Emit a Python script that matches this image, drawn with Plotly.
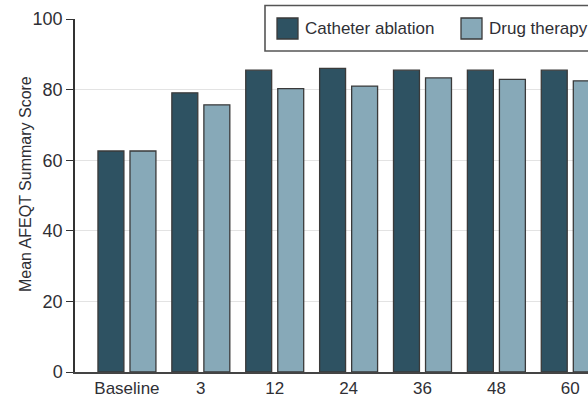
import plotly.graph_objects as go

categories = ["Baseline", "3", "12", "24", "36", "48", "60"]
catheter_ablation = [62.6, 79.1, 85.5, 86.0, 85.5, 85.5, 85.5]
drug_therapy = [62.6, 75.7, 80.3, 81.0, 83.3, 82.9, 82.5]
series_names = ["Catheter ablation", "Drug therapy"]
y_ticks = [0, 20, 40, 60, 80, 100]

W, H = 588, 400
L, R, T, B = 75, 0, 19, 28
FONT = "Liberation Sans, Arial, sans-serif"
TXT = "#2f2f35"
DARK = "#2e5262"
LIGHT = "#87a9b8"
EDGE = "#3a3a3a"

fig = go.Figure()
fig.add_trace(go.Bar(x=categories, y=catheter_ablation, name=series_names[0],
                     marker=dict(color=DARK, line=dict(color=EDGE, width=1.3)),
                     showlegend=False))
fig.add_trace(go.Bar(x=categories, y=drug_therapy, name=series_names[1],
                     marker=dict(color=LIGHT, line=dict(color=EDGE, width=1.3)),
                     showlegend=False))

pw = W - L - R
ph = H - T - B
def px(x):
    return (x - L) / pw
def py(y):
    return (H - B - y) / ph

shapes = [
    dict(type="rect", xref="paper", yref="paper", x0=px(265), x1=px(600), y0=py(51), y1=py(5.5),
         line=dict(color="#555555", width=1.6), fillcolor="white", layer="above"),
    dict(type="rect", xref="paper", yref="paper", x0=px(277), x1=px(298), y0=py(39), y1=py(18),
         line=dict(color=EDGE, width=1.3), fillcolor=DARK, layer="above"),
    dict(type="rect", xref="paper", yref="paper", x0=px(461), x1=px(482), y0=py(39), y1=py(18),
         line=dict(color=EDGE, width=1.3), fillcolor=LIGHT, layer="above"),
]
annotations = [
    dict(text=series_names[0], xref="paper", yref="paper", x=px(303), y=py(28.5),
         xanchor="left", yanchor="middle", showarrow=False, font=dict(family=FONT, size=17, color=TXT)),
    dict(text=series_names[1], xref="paper", yref="paper", x=px(487), y=py(28.5),
         xanchor="left", yanchor="middle", showarrow=False, font=dict(family=FONT, size=17, color=TXT)),
    dict(text="Mean AFEQT Summary Score", xref="paper", yref="paper", x=px(25), y=py(184),
         xanchor="center", yanchor="middle", textangle=-90, showarrow=False,
         font=dict(family=FONT, size=16, color=TXT)),
]

fig.update_layout(
    width=W, height=H,
    margin=dict(l=L, r=R, t=T, b=B, pad=0),
    paper_bgcolor="white", plot_bgcolor="white",
    barmode="group", bargap=0.133, bargroupgap=0.19,
    font=dict(family=FONT, size=17, color=TXT),
    shapes=shapes, annotations=annotations,
    xaxis=dict(type="category", range=[-0.703, 6.24], showgrid=False, ticks="",
               showline=True, linecolor="#444444", linewidth=1.5,
               tickfont=dict(family=FONT, size=17, color=TXT), fixedrange=True),
    yaxis=dict(range=[0, 100], tickvals=y_ticks, showgrid=True, gridcolor="#e3e3e3", gridwidth=1.3,
               zeroline=False, showline=True, linecolor="#333333", linewidth=1.5,
               ticks="outside", ticklen=7, tickcolor="#333333", tickwidth=1.3,
               tickfont=dict(family=FONT, size=18, color=TXT), fixedrange=True),
)

fig.write_html("out.html", config={"displayModeBar": False},
               post_script="document.body.style.margin='0px';document.body.style.overflow='hidden';")
